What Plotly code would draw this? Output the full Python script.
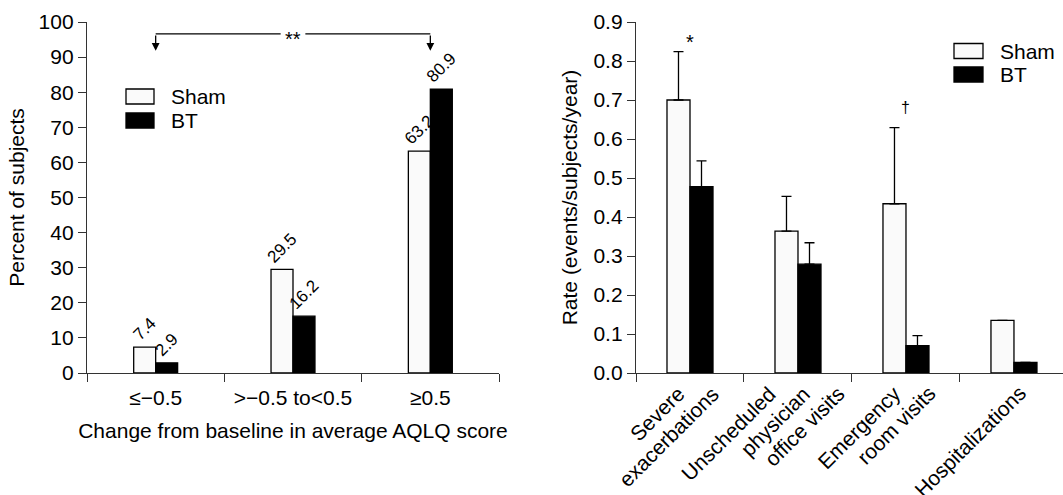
import plotly.graph_objects as go

W, H = 1063, 495

# ---------------- data ----------------
left_categories = ["≤−0.5", ">−0.5 to<0.5", "≥0.5"]
left_sham = [7.4, 29.5, 63.2]
left_bt = [2.9, 16.2, 80.9]
left_yticks = [0, 10, 20, 30, 40, 50, 60, 70, 80, 90, 100]

right_categories = ["Severe<br>exacerbations", "Unscheduled<br>physician<br>office visits",
                    "Emergency<br>room visits", "Hospitalizations"]
right_sham = [0.70, 0.364, 0.434, 0.135]
right_bt = [0.478, 0.279, 0.070, 0.027]
right_sham_err = [0.124, 0.089, 0.195, None]
right_bt_err = [0.066, 0.055, 0.026, None]
right_yticks = [0.0, 0.1, 0.2, 0.3, 0.4, 0.5, 0.6, 0.7, 0.8, 0.9]

series_names = ["Sham", "BT"]

# ---------------- style ----------------
FONT = "Liberation Sans, Arial, Helvetica, sans-serif"
AXC = "#333333"
SHAM_FILL = "#fafafa"
BT_FILL = "#000000"
FS = 21
LW = 0.16   # bar width, left (category units)
RW = 0.213  # bar width, right


def px(x):
    return x / W


def py(y):
    return 1 - y / H


fig = go.Figure()

bar_line = dict(color="#000", width=1.3)
lbl_font = dict(size=17, family=FONT, color="#000")

# left panel
fig.add_trace(go.Bar(x=left_categories, y=left_sham, name=series_names[0], width=LW, offset=-LW,
                     marker=dict(color=SHAM_FILL, line=bar_line),
                     texttemplate="%{y:.1f}", textposition="outside", textangle=-45,
                     constraintext="none", cliponaxis=False, textfont=lbl_font,
                     xaxis="x", yaxis="y", showlegend=False))
fig.add_trace(go.Bar(x=left_categories, y=left_bt, name=series_names[1], width=LW, offset=0,
                     marker=dict(color=BT_FILL, line=bar_line),
                     texttemplate="%{y:.1f}", textposition="outside", textangle=-45,
                     constraintext="none", cliponaxis=False, textfont=lbl_font,
                     xaxis="x", yaxis="y", showlegend=False))

# right panel
fig.add_trace(go.Bar(x=right_categories, y=right_sham, name=series_names[0], width=RW, offset=-RW,
                     marker=dict(color=SHAM_FILL, line=bar_line),
                     error_y=dict(type="data", array=right_sham_err, symmetric=False,
                                  arrayminus=[0] * 4, color="#000", thickness=1.3, width=5),
                     xaxis="x2", yaxis="y2", showlegend=False))
fig.add_trace(go.Bar(x=right_categories, y=right_bt, name=series_names[1], width=RW, offset=0,
                     marker=dict(color=BT_FILL, line=bar_line),
                     error_y=dict(type="data", array=right_bt_err, symmetric=False,
                                  arrayminus=[0] * 4, color="#000", thickness=1.3, width=5),
                     xaxis="x2", yaxis="y2", showlegend=False))

axis_common = dict(showline=True, linecolor=AXC, linewidth=1.3, ticks="outside",
                   tickcolor=AXC, tickwidth=1.3, ticklen=8, showgrid=False, zeroline=False,
                   automargin=False, tickfont=dict(size=FS, family=FONT, color="#000"))

fig.update_layout(
    width=W, height=H,
    margin=dict(l=0, r=0, t=0, b=0),
    paper_bgcolor="white", plot_bgcolor="white",
    barmode="overlay",
    font=dict(family=FONT, color="#000"),
    xaxis=dict(domain=[px(87), px(499)], anchor="y", type="category", range=[-0.5, 2.5],
               tickson="boundaries", ticklabelstandoff=6,
               title=dict(text="Change from baseline in average AQLQ score",
                          font=dict(size=FS, family=FONT), standoff=14),
               **axis_common),
    yaxis=dict(domain=[py(373), py(22)], anchor="x", range=[0, 100], tickvals=left_yticks,
               title=dict(text="Percent of subjects", font=dict(size=FS, family=FONT),
                          standoff=8),
               **axis_common),
    xaxis2=dict(domain=[px(636), 1.0], anchor="y2", type="category", range=[-0.5, 3.454],
                tickson="boundaries", showticklabels=False,
                **axis_common),
    yaxis2=dict(domain=[py(373), py(22)], anchor="x2", range=[0, 0.9], tickvals=right_yticks,
                tickformat=".1f",
                title=dict(text="Rate (events/subjects/year)", font=dict(size=FS, family=FONT),
                           standoff=10),
                **axis_common),
)

# rotated category labels for the right panel (each line end on a common level)
for i, cat in enumerate(right_categories):
    lines = cat.split("<br>")
    n = len(lines)
    for k, line in enumerate(lines):
        fig.add_annotation(x=i, y=py(379), xref="x2", yref="paper", text=line,
                           showarrow=False, textangle=-45, xanchor="right", yanchor="top",
                           xshift=19 + 34 * (k - (n - 1) / 2),
                           font=dict(size=FS, family=FONT, color="#000"))

# significance bracket (left)
br_y, tip_y = 96.6, 91.8
fig.add_shape(type="line", xref="x", yref="y", x0=0, x1=2, y0=br_y, y1=br_y,
              line=dict(color="#000", width=1.3))
for cx in (0, 2):
    fig.add_annotation(x=cx, y=tip_y, ax=cx, ay=br_y, xref="x", yref="y", axref="x", ayref="y",
                       text="", showarrow=True, arrowhead=2, arrowsize=1.2, arrowwidth=1.3,
                       arrowcolor="#000")
fig.add_annotation(x=1, y=br_y, xref="x", yref="y", text="**", showarrow=False, yshift=-5,
                   bgcolor="rgba(0,0,0,0)", font=dict(size=20, family=FONT))
fig.add_shape(type="rect", xref="x", yref="y", x0=0.91, x1=1.09, y0=br_y - 1, y1=br_y + 1,
              fillcolor="white", line=dict(width=0), layer="above")

# significance marks (right)
fig.add_annotation(x=0, y=0.862, xref="x2", yref="y2", text="*", showarrow=False, yshift=-5,
                   font=dict(size=20, family=FONT))
fig.add_annotation(x=2, y=0.682, xref="x2", yref="y2", text="†", showarrow=False,
                   font=dict(size=16, family=FONT))


# manual legends
def legend(x0, y_sham, y_bt, box_w, box_h):
    for name, yc, fill in ((series_names[0], y_sham, SHAM_FILL), (series_names[1], y_bt, BT_FILL)):
        fig.add_shape(type="rect", xref="paper", yref="paper",
                      x0=px(x0), x1=px(x0 + box_w), y0=py(yc + box_h / 2), y1=py(yc - box_h / 2),
                      fillcolor=fill, line=dict(color="#000", width=1.3))
        fig.add_annotation(x=px(x0 + box_w + 15), y=py(yc), xref="paper", yref="paper",
                           text=name, showarrow=False, xanchor="left", yanchor="middle",
                           font=dict(size=FS, family=FONT))


legend(126, 96.5, 120.5, 28, 15)
legend(954, 51, 74.5, 29, 15)

fig.write_html("out.html", config={"displayModeBar": False},
               post_script="document.body.style.margin='0px';")
